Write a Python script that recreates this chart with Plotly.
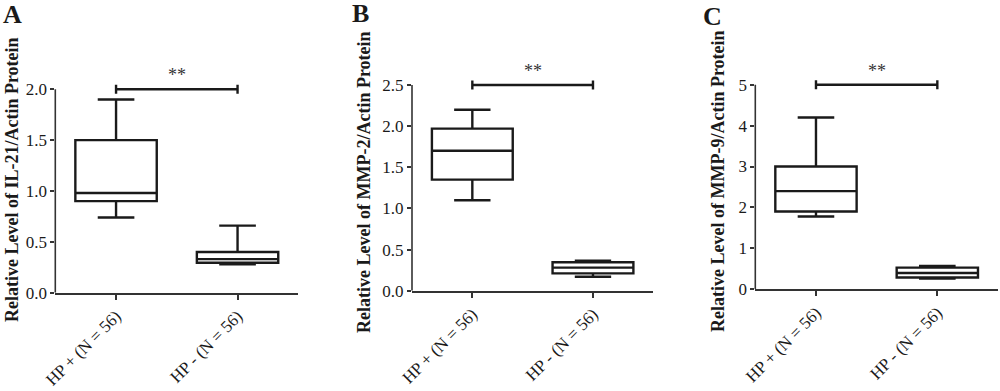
import plotly.graph_objects as go

# ---- data ----
categories = ["HP + (N = 56)", "HP - (N = 56)"]

il21_lower = [0.74, 0.28]
il21_q1 = [0.90, 0.295]
il21_median = [0.98, 0.33]
il21_q3 = [1.50, 0.40]
il21_upper = [1.90, 0.66]

mmp2_lower = [1.10, 0.17]
mmp2_q1 = [1.35, 0.21]
mmp2_median = [1.70, 0.28]
mmp2_q3 = [1.97, 0.345]
mmp2_upper = [2.20, 0.365]

mmp9_lower = [1.78, 0.26]
mmp9_q1 = [1.90, 0.29]
mmp9_median = [2.40, 0.40]
mmp9_q3 = [3.00, 0.53]
mmp9_upper = [4.20, 0.57]

titles = ["Relative Level of IL-21/Actin Protein",
          "Relative Level of MMP-2/Actin Protein",
          "Relative Level of MMP-9/Actin Protein"]
letters = ["A", "B", "C"]
ytick_vals = [[0, 0.5, 1.0, 1.5, 2.0],
              [0, 0.5, 1.0, 1.5, 2.0, 2.5],
              [0, 1, 2, 3, 4, 5]]
ytick_text = [["0.0", "0.5", "1.0", "1.5", "2.0"],
              ["0.0", "0.5", "1.0", "1.5", "2.0", "2.5"],
              ["0", "1", "2", "3", "4", "5"]]
sig_label = "**"

panels = [
    (il21_lower, il21_q1, il21_median, il21_q3, il21_upper),
    (mmp2_lower, mmp2_q1, mmp2_median, mmp2_q3, mmp2_upper),
    (mmp9_lower, mmp9_q1, mmp9_median, mmp9_q3, mmp9_upper),
]

# ---- layout geometry (pixels) ----
W, H = 1000, 391
geom = [  # x0px, x1px, y0px(zero), ytoppx(top tick), top tick value
    (55.3, 298.3, 292.7, 89.3, 2.0),
    (412.0, 653.3, 290.7, 85.0, 2.5),
    (755.3, 998.0, 289.3, 84.7, 5.0),
]
title_pos = [(12, 180), (364, 182), (718, 181)]
letter_pos = [(12, 15), (360, 13), (712, 16)]
headroom = 8

SERIF = "Liberation Serif, Times New Roman, serif"
INK = "#1a1a1a"

fig = go.Figure()
for i, (data, g) in enumerate(zip(panels, geom)):
    lo, q1, med, q3, up = data
    sfx = "" if i == 0 else str(i + 1)
    xref, yref = "x" + sfx, "y" + sfx
    fig.add_trace(go.Box(
        x=categories, lowerfence=lo, q1=q1, median=med, q3=q3, upperfence=up,
        xaxis=xref, yaxis=yref, width=0.67, whiskerwidth=0.45,
        fillcolor="white", line=dict(color=INK, width=2.4),
        boxpoints=False, showlegend=False, hoverinfo="skip",
    ))
    x0px, x1px, y0px, ytpx, ytop = g
    ppu = (y0px - ytpx) / ytop
    rtop = ytop + headroom / ppu
    toppx = ytpx - headroom
    xa = dict(domain=[x0px / W, x1px / W], anchor=yref, type="category",
              categoryorder="array", categoryarray=categories, automargin=False,
              range=[-0.5, 1.5], showline=True, linecolor="#333", linewidth=1.6,
              ticks="outside", ticklen=5, tickwidth=1.6, tickcolor="#333",
              tickangle=-45, tickfont=dict(family=SERIF, size=17, color=INK),
              showgrid=False, zeroline=False, fixedrange=True)
    ya = dict(domain=[(H - y0px) / H, (H - toppx) / H], anchor=xref, automargin=False,
              range=[0, rtop], showline=False, ticks="outside", ticklen=4,
              tickwidth=1.6, tickcolor="#333", tickvals=ytick_vals[i],
              ticktext=ytick_text[i], tickfont=dict(family=SERIF, size=17, color=INK),
              showgrid=False, zeroline=False, fixedrange=True)
    fig.layout["xaxis" + sfx] = xa
    fig.layout["yaxis" + sfx] = ya
    # y-axis line up to top tick
    fig.add_shape(type="line", xref=xref + " domain", yref=yref,
                  x0=0, x1=0, y0=0, y1=ytop, line=dict(color="#333", width=1.6))
    # significance bracket
    fig.add_shape(type="line", xref=xref, yref=yref, x0=categories[0], x1=categories[1],
                  y0=ytop, y1=ytop, line=dict(color=INK, width=2.4))
    for c in categories:
        fig.add_shape(type="line", xref=xref, yref=yref, ysizemode="pixel", yanchor=ytop,
                      x0=c, x1=c, y0=-4.5, y1=4.5, line=dict(color=INK, width=2.4))
    fig.add_annotation(xref=xref, yref=yref, x=0.5, y=ytop, text=sig_label,
                       showarrow=False, yanchor="middle", yshift=14,
                       font=dict(family=SERIF, size=18, color="#333"))
    tx, ty = title_pos[i]
    fig.add_annotation(xref="paper", yref="paper", x=tx / W, y=(H - ty) / H,
                       text="<b>" + titles[i] + "</b>", textangle=-90, showarrow=False,
                       xanchor="center", yanchor="middle",
                       font=dict(family=SERIF, size=18, color=INK))
    lx, ly = letter_pos[i]
    fig.add_annotation(xref="paper", yref="paper", x=lx / W, y=(H - ly) / H,
                       text="<b>" + letters[i] + "</b>", showarrow=False,
                       xanchor="center", yanchor="middle",
                       font=dict(family=SERIF, size=26, color=INK))

fig.update_layout(width=W, height=H, margin=dict(l=0, r=0, t=0, b=0, autoexpand=False),
                  paper_bgcolor="white", plot_bgcolor="white", showlegend=False)
fig.write_html("out.html", config={"displayModeBar": False},
               post_script="document.body.style.margin='0';document.body.style.overflow='hidden';")
